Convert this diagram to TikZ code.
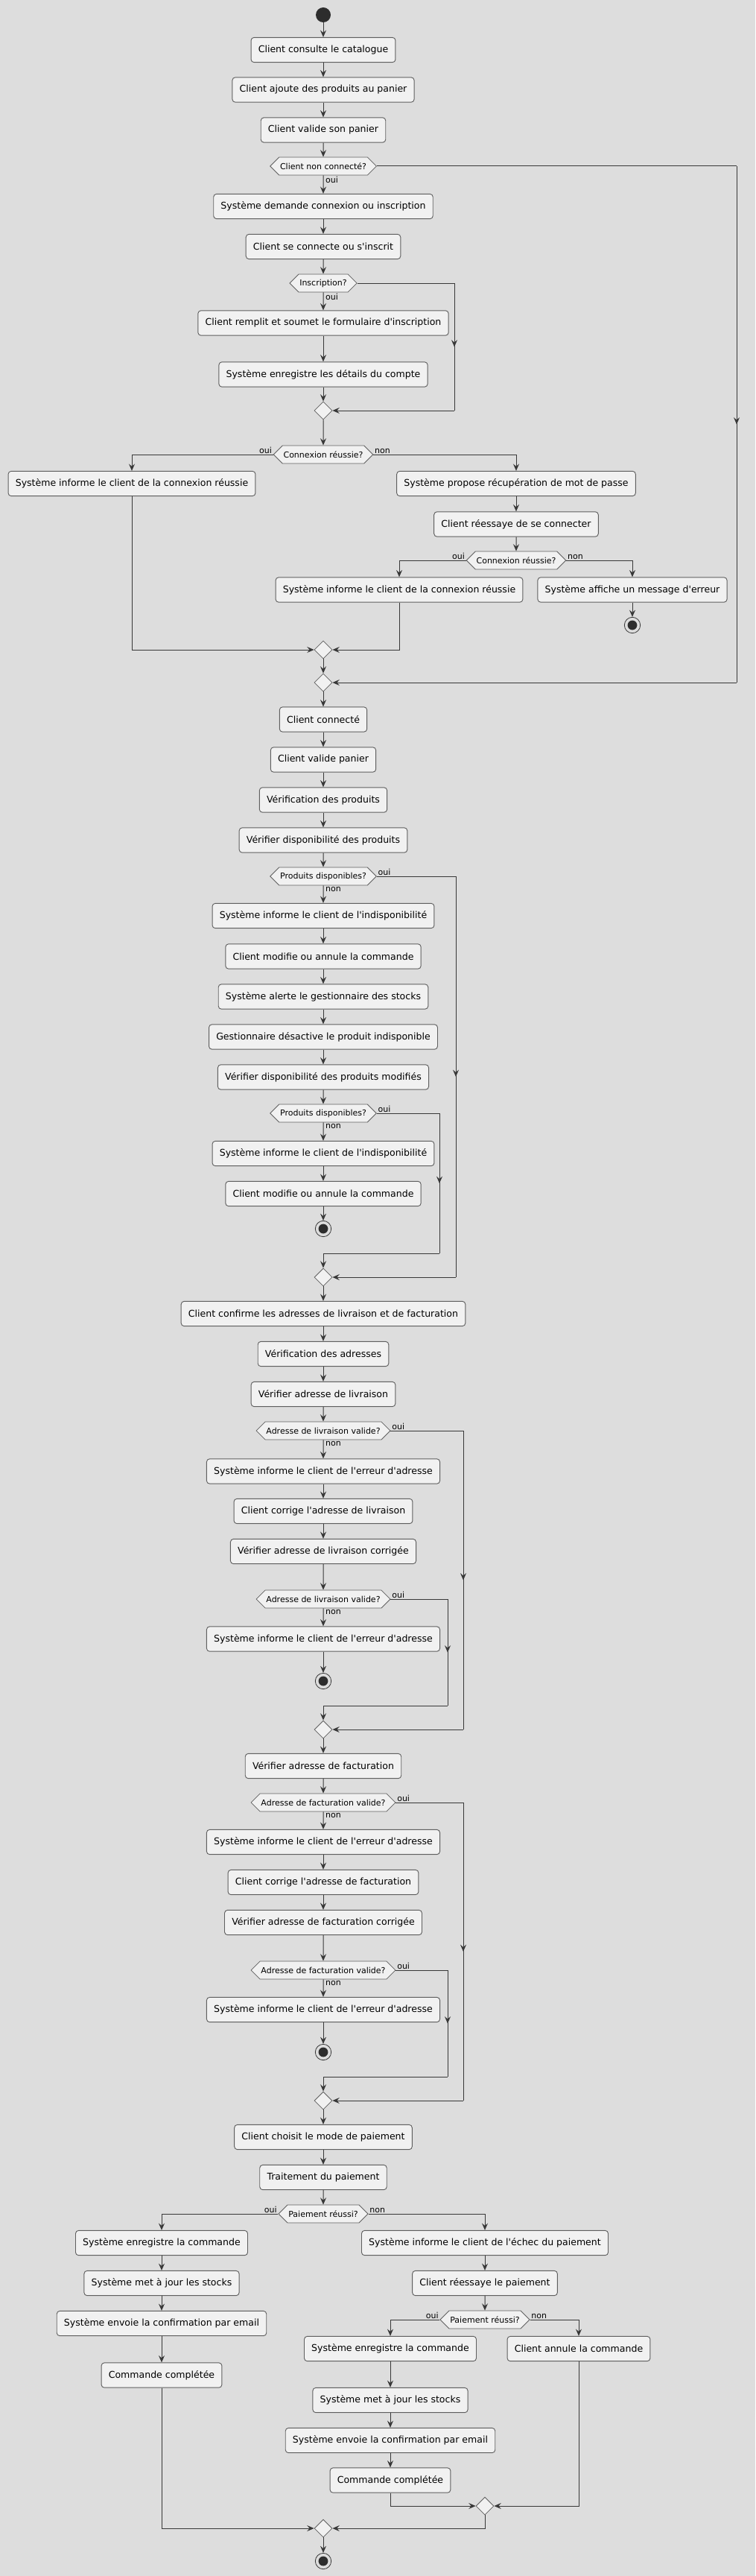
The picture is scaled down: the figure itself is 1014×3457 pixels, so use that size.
\documentclass[tikz,border=0pt]{standalone}
\usepackage{fontspec}
\setmainfont{DejaVu Sans}[Ligatures=TeXOff]
\usetikzlibrary{arrows.meta,shapes.geometric,shapes.symbols,decorations.markings}
\definecolor{bg}{HTML}{DDDDDD}
\definecolor{boxfill}{HTML}{F1F1F1}
\definecolor{boxline}{HTML}{5F5F5F}
\definecolor{flow}{HTML}{383838}
\tikzstyle{act}   = [rectangle, rounded corners=3pt, draw=boxline, fill=boxfill, line width=0.7pt,
                     minimum height=25pt, inner xsep=7.3pt, text=black, font=\fontsize{9.4}{11}\selectfont]
\tikzstyle{test}  = [signal, signal to=west and east, signal pointer angle=90, draw=boxline,
                     fill=boxfill, line width=0.6pt, minimum height=18pt, inner xsep=1pt, inner ysep=2pt,
                     text=black, font=\fontsize{8.25}{10}\selectfont]
\tikzstyle{merge} = [diamond, draw=boxline, fill=boxfill, line width=0.6pt, minimum size=18pt, inner sep=0pt]
\tikzstyle{lbl}   = [inner sep=1pt, text=black, font=\fontsize{8.25}{10}\selectfont]

\begin{document}
\begin{tikzpicture}[x=0.75pt, y=-0.75pt, >={Stealth[length=7pt,width=6pt,inset=2.5pt]},
    start/.style={circle, fill=flow!80!black, minimum size=15pt, inner sep=0pt},
    stop/.style={circle, draw=flow, line width=0.6pt, minimum size=16pt, inner sep=0pt,
                 path picture={\fill[flow!80!black] (path picture bounding box.center) circle (4.8pt);}},
    midarrow/.style={postaction={decorate, decoration={markings, mark=at position 0.5 with {\arrow{>}}}}}]
  \useasboundingbox[fill=bg] (0,0) rectangle (1014,3457);

  \node[start] (st) at (434,20) {};
  \node[act] (b1) at (434,67) {Client consulte le catalogue};
  \node[act] (b2) at (434,120.5) {Client ajoute des produits au panier};
  \node[act] (b3) at (434,174.5) {Client valide son panier};
  \node[test] (d1) at (434,223) {Client non connecté?};
  \node[act] (b4) at (434,277) {Système demande connexion ou inscription};
  \node[act] (b5) at (434,331) {Client se connecte ou s'inscrit};
  \node[test] (d2) at (434,380) {Inscription?};
  \node[act] (b6) at (434,433.5) {Client remplit et soumet le formulaire d'inscription};
  \node[act] (b7) at (434,502.5) {Système enregistre les détails du compte};
  \node[merge] (m1) at (434,551) {};
  \node[test] (d3) at (434,610) {Connexion réussie?};
  \node[act] (b8) at (177,649) {Système informe le client de la connexion réussie};
  \node[act] (b9) at (693,649) {Système propose récupération de mot de passe};
  \node[act] (b10) at (693,703.5) {Client réessaye de se connecter};
  \node[test] (d4) at (693,752) {Connexion réussie?};
  \node[act] (b11) at (536,791.5) {Système informe le client de la connexion réussie};
  \node[act] (b12) at (849,791.5) {Système affiche un message d'erreur};
  \node[stop] (e1) at (849,839) {};
  \node[merge] (m2) at (434,872) {};
  \node[merge] (m3) at (434,916) {};
  \node[act] (b13) at (434,965.5) {Client connecté};
  \node[act] (b14) at (434,1019.5) {Client valide panier};
  \node[act] (b15) at (434,1073.5) {Vérification des produits};
  \node[act] (b16) at (434,1127.5) {Vérifier disponibilité des produits};
  \node[test] (d5) at (434,1176) {Produits disponibles?};
  \node[act] (b17) at (434,1229) {Système informe le client de l'indisponibilité};
  \node[act] (b18) at (434,1283.5) {Client modifie ou annule la commande};
  \node[act] (b19) at (434,1337.5) {Système alerte le gestionnaire des stocks};
  \node[act] (b20) at (434,1391.5) {Gestionnaire désactive le produit indisponible};
  \node[act] (b21) at (434,1445.5) {Vérifier disponibilité des produits modifiés};
  \node[test] (d6) at (434,1494) {Produits disponibles?};
  \node[act] (b22) at (434,1548) {Système informe le client de l'indisponibilité};
  \node[act] (b23) at (434,1602) {Client modifie ou annule la commande};
  \node[stop] (e2) at (434,1649) {};
  \node[merge] (m5) at (434,1714) {};
  \node[act] (b24) at (434,1763) {Client confirme les adresses de livraison et de facturation};
  \node[act] (b25) at (434,1817) {Vérification des adresses};
  \node[act] (b26) at (434,1871) {Vérifier adresse de livraison};
  \node[test] (d7) at (434,1920) {Adresse de livraison valide?};
  \node[act] (b27) at (434,1974.5) {Système informe le client de l'erreur d'adresse};
  \node[act] (b28) at (434,2028) {Client corrige l'adresse de livraison};
  \node[act] (b29) at (434,2082) {Vérifier adresse de livraison corrigée};
  \node[test] (d8) at (434,2146) {Adresse de livraison valide?};
  \node[act] (b30) at (434,2199.5) {Système informe le client de l'erreur d'adresse};
  \node[stop] (e3) at (434,2256) {};
  \node[merge] (m7) at (434,2321) {};
  \node[act] (b31) at (434,2370) {Vérifier adresse de facturation};
  \node[test] (d9) at (434,2419) {Adresse de facturation valide?};
  \node[act] (b32) at (434,2472) {Système informe le client de l'erreur d'adresse};
  \node[act] (b33) at (434,2526) {Client corrige l'adresse de facturation};
  \node[act] (b34) at (434,2580) {Vérifier adresse de facturation corrigée};
  \node[test] (d10) at (434,2644) {Adresse de facturation valide?};
  \node[act] (b35) at (434,2697) {Système informe le client de l'erreur d'adresse};
  \node[stop] (e4) at (434,2754) {};
  \node[merge] (m9) at (434,2819) {};
  \node[act] (b36) at (434,2868) {Client choisit le mode de paiement};
  \node[act] (b37) at (434,2922) {Traitement du paiement};
  \node[test] (d11) at (434,2971) {Paiement réussi?};
  \node[act] (b38) at (217,3010) {Système enregistre la commande};
  \node[act] (b39) at (217,3064) {Système met à jour les stocks};
  \node[act] (b40) at (217,3118) {Système envoie la confirmation par email};
  \node[act] (b41) at (217,3187.5) {Commande complétée};
  \node[act] (b42) at (651,3010) {Système informe le client de l'échec du paiement};
  \node[act] (b43) at (651,3064) {Client réessaye le paiement};
  \node[test] (d12) at (651,3113) {Paiement réussi?};
  \node[act] (b44) at (524,3152) {Système enregistre la commande};
  \node[act] (b45) at (777,3152) {Client annule la commande};
  \node[act] (b46) at (524,3221) {Système met à jour les stocks};
  \node[act] (b47) at (524,3275) {Système envoie la confirmation par email};
  \node[act] (b48) at (524,3328.5) {Commande complétée};
  \node[merge] (m12) at (651,3363) {};
  \node[merge] (m11) at (434,3393) {};
  \node[stop] (e5) at (434,3437) {};

  \foreach \r/\x in {r1/989,r2/610,r5/612,r6/590,r7/622,r8/601,r9/622,r10/601}
    \coordinate (\r) at (\x,0);
  \coordinate (t6) at (434,1682);
  \coordinate (t8) at (434,2289);
  \coordinate (t10) at (434,2787);

  \begin{scope}[flow, line width=0.75pt]
    \foreach \a/\b in {st/b1,b1/b2,b2/b3,b3/d1,b4/b5,b5/d2,b6/b7,b7/m1,m1/d3,b9/b10,b10/d4,b12/e1,
        m2/m3,m3/b13,b13/b14,b14/b15,b15/b16,b16/d5,b17/b18,b18/b19,b19/b20,b20/b21,b21/d6,b22/b23,b23/e2,
        m5/b24,b24/b25,b25/b26,b26/d7,b27/b28,b28/b29,b29/d8,b30/e3,m7/b31,b31/d9,b32/b33,b33/b34,b34/d10,
        b35/e4,m9/b36,b36/b37,b37/d11,b38/b39,b39/b40,b40/b41,b42/b43,b43/d12,b44/b46,b46/b47,b47/b48,m11/e5}
      \draw[->] (\a) -- (\b);
    \foreach \a/\b/\t in {d1/b4/oui,d2/b6/oui,d5/b17/non,d6/b22/non,d7/b27/non,d8/b30/non,d9/b32/non,d10/b35/non}
      \draw[->] (\a) -- node[lbl, pos=0, anchor=north west, xshift=1pt] (l\a) {\t} (\b);

    \foreach \d/\r/\m in {d1/r1/m3,d2/r2/m1,d5/r5/m5,d7/r7/m7,d9/r9/m9}{
      \draw (\d.east) -- (\d.east -| \r);
      \draw[midarrow] (\d.east -| \r) -- (\r |- \m);
      \draw[->] (\r |- \m) -- (\m.east);
    }
    \foreach \d/\r/\t/\m in {d6/r6/t6/m5,d8/r8/t8/m7,d10/r10/t10/m9}{
      \draw (\d.east) -- (\d.east -| \r);
      \draw[midarrow] (\d.east -| \r) -- (\r |- \t);
      \draw[->] (\r |- \t) -- (\t) -- (\m.north);
    }
    \foreach \d in {d5,d6,d7,d8,d9,d10}
      \node[lbl, anchor=south west] (o\d) at (\d.east) {oui};

    \foreach \d/\a/\b in {d3/b8/b9,d4/b11/b12,d11/b38/b42,d12/b44/b45}{
      \draw[->] (\d.west) node[lbl, anchor=south east] (o\d) {oui} -| (\a);
      \draw[->] (\d.east) node[lbl, anchor=south west] (n\d) {non} -| (\b);
    }

    \draw[->] (b8) |- (m2.west);
    \draw[->] (b11) |- (m2.east);
    \draw[->] (b48) |- (m12.west);
    \draw[->] (b45) |- (m12.east);
    \draw[->] (b41) |- (m11.west);
    \draw[->] (m12) |- (m11.east);
  \end{scope}
\end{tikzpicture}
\end{document}
